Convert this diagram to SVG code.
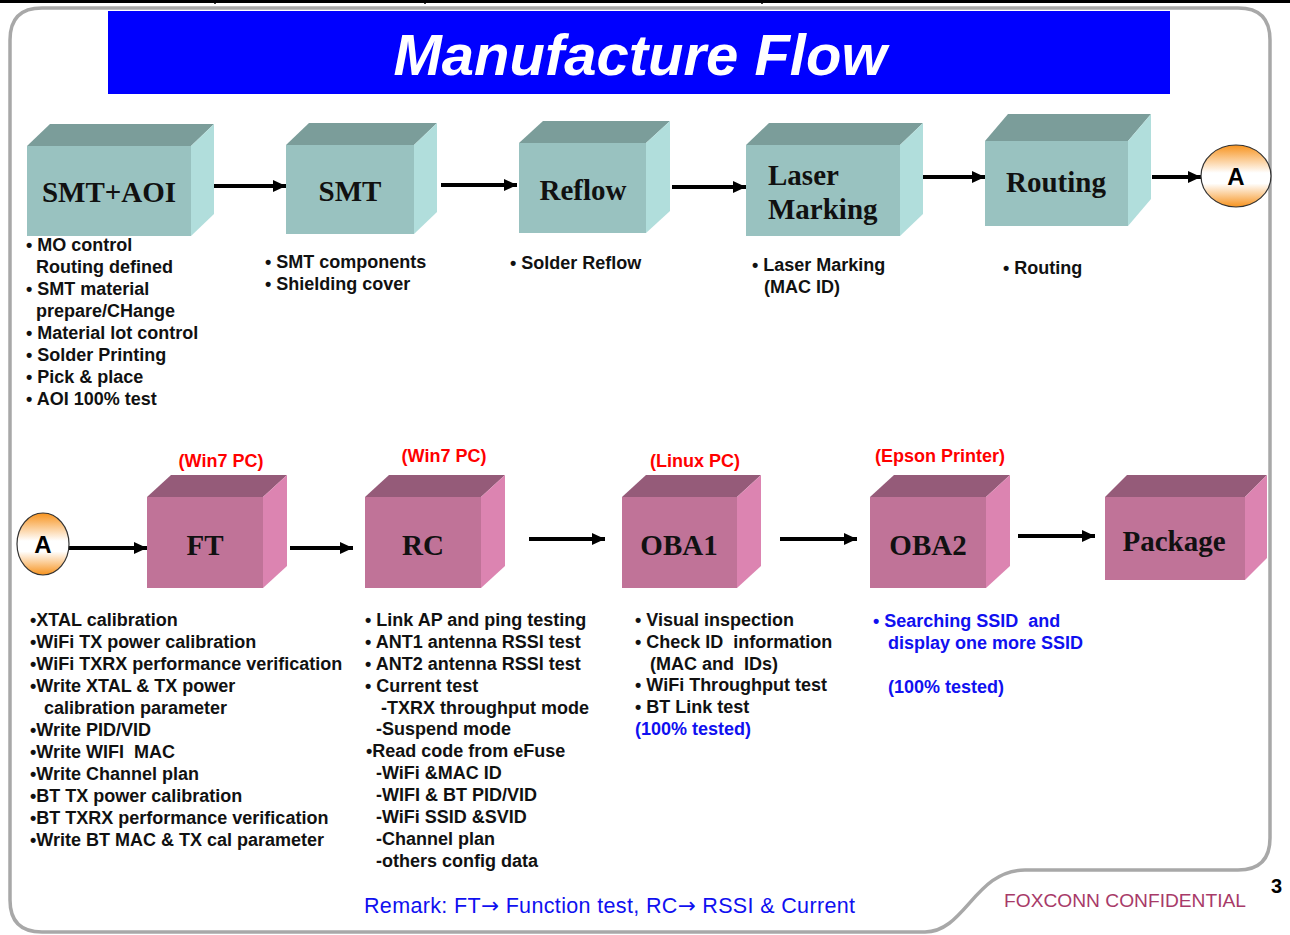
<svg xmlns="http://www.w3.org/2000/svg" width="1290" height="935" viewBox="0 0 1290 935">
<defs>
<linearGradient id="orng" x1="0" y1="0" x2="0" y2="1">
<stop offset="0" stop-color="#F7931E"/>
<stop offset="0.45" stop-color="#FFFFFF"/>
<stop offset="0.62" stop-color="#FFFFFF"/>
<stop offset="1" stop-color="#F7931E"/>
</linearGradient>
<marker id="ah" markerUnits="userSpaceOnUse" markerWidth="14" markerHeight="14" refX="13" refY="7" orient="auto">
<path d="M0,1 L13,7 L0,13 Z" fill="#000"/>
</marker>
<style>
.fr{fill:none;stroke:#a8a8a8;stroke-width:3.5}
.tf{fill:#7B9D9A}.ff{fill:#99C2C0}.rf{fill:#B1DEDC}
.tp{fill:#955B79}.fp{fill:#C07398}.rp{fill:#DC84B1}
.bx{font-family:"Liberation Serif","Times New Roman",serif;font-weight:bold;font-size:29px;fill:#111}
.t{font-family:"Liberation Sans",Arial,sans-serif;font-weight:bold;font-size:18px;fill:#111;white-space:pre}
.bl{fill:#1010F0}
.red{font-family:"Liberation Sans",Arial,sans-serif;font-weight:bold;font-size:18px;fill:#FF0000}
.ar{stroke:#000;stroke-width:4;fill:none;marker-end:url(#ah)}
.ca{stroke:#333;stroke-width:1.2;fill:url(#orng)}
.la{font-family:"Liberation Sans",Arial,sans-serif;font-weight:bold;font-size:24px;fill:#000}
.arw{font-family:"DejaVu Sans",sans-serif}
</style>
</defs>
<rect width="1290" height="935" fill="#fff"/>
<!-- top table line -->
<g id="topline" stroke="#000">
<line x1="0" y1="1.5" x2="1290" y2="1.5" stroke-width="3"/>
<line x1="215" y1="0" x2="215" y2="4" stroke-width="1.5"/>
<line x1="425" y1="0" x2="425" y2="4" stroke-width="1.5"/>
<line x1="762" y1="0" x2="762" y2="4" stroke-width="1.5"/>
</g>
<!-- frame -->
<path class="fr" d="M42,932 L925,932 C965,932 975,870 1025,870 L1238,870 Q1270,870 1270,838 L1270,40 Q1270,8 1238,8 L42,8 Q10,8 10,40 L10,900 Q10,932 42,932"/>
<!-- title -->
<g id="title">
<rect x="108" y="11" width="1062" height="83" fill="#0000FF"/>
<text x="640" y="75" text-anchor="middle" font-family="Liberation Sans,Arial,sans-serif" font-weight="bold" font-style="italic" font-size="58" fill="#fff">Manufacture Flow</text>
</g>
<!-- connectors -->
<g id="connectors">
<line class="ar" x1="210" y1="186" x2="286" y2="186"/>
<line class="ar" x1="441" y1="185" x2="517" y2="185"/>
<line class="ar" x1="672" y1="187" x2="746" y2="187"/>
<line class="ar" x1="911" y1="177" x2="985" y2="177"/>
<line class="ar" x1="1152" y1="177" x2="1201" y2="177"/>
<line class="ar" x1="68" y1="548" x2="147" y2="548"/>
<line class="ar" x1="290" y1="548" x2="353" y2="548"/>
<line class="ar" x1="529" y1="539" x2="605" y2="539"/>
<line class="ar" x1="780" y1="539" x2="857" y2="539"/>
<line class="ar" x1="1018" y1="536" x2="1095" y2="536"/>
</g>
<!-- top row -->
<g id="smtaoi">
<polygon class="tf" points="27,146 50,124 214,124 191,146"/>
<polygon class="rf" points="191,146 214,124 214,214 191,236"/>
<rect class="ff" x="27" y="146" width="164" height="90"/>
<text class="bx" x="109" y="202" text-anchor="middle">SMT+AOI</text>
<text class="t" y="251"><tspan x="26">• MO control</tspan><tspan x="36" y="273">Routing defined</tspan><tspan x="26" y="295">• SMT material</tspan><tspan x="36" y="317">prepare/CHange</tspan><tspan x="26" y="339">• Material lot control</tspan><tspan x="26" y="361">• Solder Printing</tspan><tspan x="26" y="383">• Pick &amp; place</tspan><tspan x="26" y="405">• AOI 100% test</tspan></text>
</g>
<g id="smt">
<polygon class="tf" points="286,145 309,123 437,123 414,145"/>
<polygon class="rf" points="414,145 437,123 437,212 414,234"/>
<rect class="ff" x="286" y="145" width="128" height="89"/>
<text class="bx" x="350" y="201" text-anchor="middle">SMT</text>
<text class="t" y="268"><tspan x="265">• SMT components</tspan><tspan x="265" y="290">• Shielding cover</tspan></text>
</g>
<g id="reflow">
<polygon class="tf" points="519,143 543,121 670,121 646,143"/>
<polygon class="rf" points="646,143 670,121 670,211 646,233"/>
<rect class="ff" x="519" y="143" width="127" height="90"/>
<text class="bx" x="583" y="200" text-anchor="middle">Reflow</text>
<text class="t" x="510" y="269">• Solder Reflow</text>
</g>
<g id="laser">
<polygon class="tf" points="746,145 769,123 923,123 900,145"/>
<polygon class="rf" points="900,145 923,123 923,214 900,236"/>
<rect class="ff" x="746" y="145" width="154" height="91"/>
<text class="bx" x="768" y="185">Laser</text>
<text class="bx" x="768" y="219">Marking</text>
<text class="t" y="271"><tspan x="752">• Laser Marking</tspan><tspan x="764" y="293">(MAC ID)</tspan></text>
</g>
<g id="routing">
<polygon class="tf" points="985,141 1008,114 1151,114 1128,141"/>
<polygon class="rf" points="1128,141 1151,114 1151,199 1128,226"/>
<rect class="ff" x="985" y="141" width="143" height="85"/>
<text class="bx" x="1056" y="192" text-anchor="middle">Routing</text>
<text class="t" x="1003" y="274">• Routing</text>
</g>
<g id="connA1">
<ellipse class="ca" cx="1236" cy="176" rx="35" ry="31"/>
<text class="la" x="1236" y="185" text-anchor="middle">A</text>
</g>
<!-- bottom row -->
<g id="connA2">
<ellipse class="ca" cx="43" cy="544" rx="26" ry="31"/>
<text class="la" x="43" y="553" text-anchor="middle">A</text>
</g>
<g id="ft">
<text class="red" x="221" y="467" text-anchor="middle">(Win7 PC)</text>
<polygon class="tp" points="147,497 171,475 287,475 263,497"/>
<polygon class="rp" points="263,497 287,475 287,566 263,588"/>
<rect class="fp" x="147" y="497" width="116" height="91"/>
<text class="bx" x="205" y="555" text-anchor="middle">FT</text>
<text class="t" y="626"><tspan x="30">•XTAL calibration</tspan><tspan x="30" y="648">•WiFi TX power calibration</tspan><tspan x="30" y="670">•WiFi TXRX performance verification</tspan><tspan x="30" y="692">•Write XTAL &amp; TX power</tspan><tspan x="44" y="714">calibration parameter</tspan><tspan x="30" y="736">•Write PID/VID</tspan><tspan x="30" y="758">•Write WIFI  MAC</tspan><tspan x="30" y="780">•Write Channel plan</tspan><tspan x="30" y="802">•BT TX power calibration</tspan><tspan x="30" y="824">•BT TXRX performance verification</tspan><tspan x="30" y="846">•Write BT MAC &amp; TX cal parameter</tspan></text>
</g>
<g id="rc">
<text class="red" x="444" y="462" text-anchor="middle">(Win7 PC)</text>
<polygon class="tp" points="365,497 389,475 505,475 481,497"/>
<polygon class="rp" points="481,497 505,475 505,566 481,588"/>
<rect class="fp" x="365" y="497" width="116" height="91"/>
<text class="bx" x="423" y="555" text-anchor="middle">RC</text>
<text class="t" y="626"><tspan x="365">• Link AP and ping testing</tspan><tspan x="365" y="648">• ANT1 antenna RSSI test</tspan><tspan x="365" y="670">• ANT2 antenna RSSI test</tspan><tspan x="365" y="692">• Current test</tspan><tspan x="381" y="714">-TXRX throughput mode</tspan><tspan x="376" y="735">-Suspend mode</tspan><tspan x="366" y="757">•Read code from eFuse</tspan><tspan x="376" y="779">-WiFi &amp;MAC ID</tspan><tspan x="376" y="801">-WIFI &amp; BT PID/VID</tspan><tspan x="376" y="823">-WiFi SSID &amp;SVID</tspan><tspan x="376" y="845">-Channel plan</tspan><tspan x="376" y="867">-others config data</tspan></text>
</g>
<g id="oba1">
<text class="red" x="695" y="467" text-anchor="middle">(Linux PC)</text>
<polygon class="tp" points="622,497 646,475 761,475 737,497"/>
<polygon class="rp" points="737,497 761,475 761,566 737,588"/>
<rect class="fp" x="622" y="497" width="115" height="91"/>
<text class="bx" x="679" y="555" text-anchor="middle">OBA1</text>
<text class="t" y="626"><tspan x="635">• Visual inspection</tspan><tspan x="635" y="648">• Check ID  information</tspan><tspan x="650" y="670">(MAC and  IDs)</tspan><tspan x="635" y="691">• WiFi Throughput test</tspan><tspan x="635" y="713">• BT Link test</tspan><tspan x="635" y="735" class="bl">(100% tested)</tspan></text>
</g>
<g id="oba2">
<text class="red" x="940" y="462" text-anchor="middle">(Epson Printer)</text>
<polygon class="tp" points="870,497 894,475 1010,475 986,497"/>
<polygon class="rp" points="986,497 1010,475 1010,566 986,588"/>
<rect class="fp" x="870" y="497" width="116" height="91"/>
<text class="bx" x="928" y="555" text-anchor="middle">OBA2</text>
<text class="t bl" y="627"><tspan x="873">• Searching SSID  and</tspan><tspan x="888" y="649">display one more SSID</tspan><tspan x="888" y="693">(100% tested)</tspan></text>
</g>
<g id="package">
<polygon class="tp" points="1105,497 1127,475 1267,475 1245,497"/>
<polygon class="rp" points="1245,497 1267,475 1267,558 1245,580"/>
<rect class="fp" x="1105" y="497" width="140" height="83"/>
<text class="bx" x="1174" y="551" text-anchor="middle">Package</text>
</g>
<!-- footer -->
<text x="364" y="913" font-family="Liberation Sans,Arial,sans-serif" font-size="21.5" fill="#1010F0" textLength="491" lengthAdjust="spacing">Remark: FT<tspan class="arw">→</tspan> Function test, RC<tspan class="arw">→</tspan> RSSI &amp; Current</text>
<text x="1004" y="907" font-family="Liberation Sans,Arial,sans-serif" font-size="19.2" fill="#A83A68">FOXCONN CONFIDENTIAL</text>
<text x="1271" y="893" font-family="Liberation Sans,Arial,sans-serif" font-weight="bold" font-size="20" fill="#000">3</text>
</svg>
